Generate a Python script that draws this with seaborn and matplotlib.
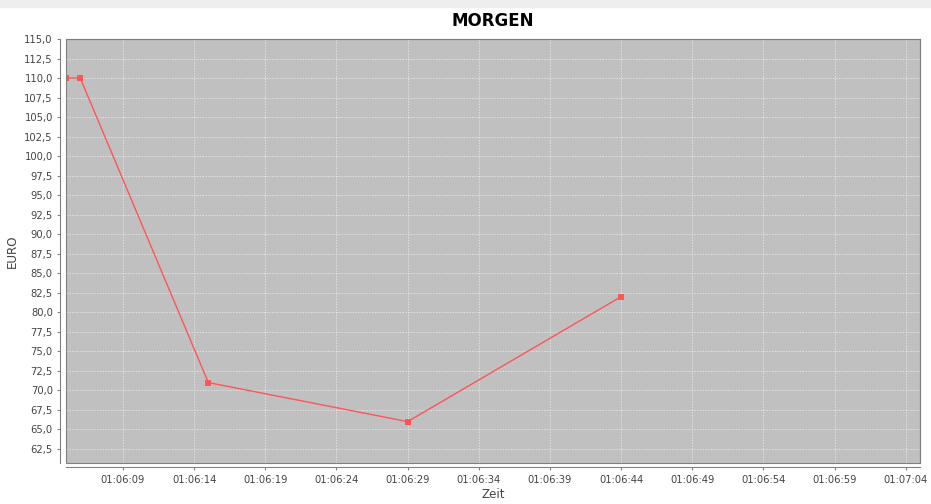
import datetime as dt
import matplotlib
matplotlib.use("Agg")
import matplotlib.pyplot as plt
import matplotlib.dates as mdates
from matplotlib.ticker import FuncFormatter, MultipleLocator
from matplotlib.patches import Rectangle
import pandas as pd
import seaborn as sns

# Data
zeit = ["01:06:05", "01:06:06", "01:06:15", "01:06:29", "01:06:44"]
euro = [110.0, 110.0, 71.0, 66.0, 82.0]

day = "2020-01-01 "
df = pd.DataFrame({"Zeit": pd.to_datetime([day + t for t in zeit]), "EURO": euro})

sns.set_style("white")
plt.rcParams["font.family"] = ["DejaVu Sans"]

fig = plt.figure(figsize=(9.31, 5.04), dpi=100)
fig.patches.append(Rectangle((0, 497 / 504), 1, 7 / 504, transform=fig.transFigure,
                             color="#eeeeee", zorder=0))
ax = fig.add_axes([66 / 931, 1 - 463 / 504, (920 - 66) / 931, (463 - 39) / 504])
ax.set_facecolor("#c0c0c0")

sns.lineplot(data=df, x="Zeit", y="EURO", ax=ax, color="#ff5555", linewidth=1.0,
             marker="s", markersize=5, markeredgewidth=0, markerfacecolor="#ff5555",
             zorder=3)

ax.set_xlim(pd.Timestamp(day + "01:06:05"), pd.Timestamp(day + "01:07:05"))
ax.set_ylim(60.7, 115.0)

ax.xaxis.set_major_locator(mdates.SecondLocator(bysecond=range(4, 60, 5)))
ax.xaxis.set_major_formatter(mdates.DateFormatter("%H:%M:%S"))
ax.yaxis.set_major_locator(MultipleLocator(2.5))
ax.yaxis.set_major_formatter(FuncFormatter(lambda v, p: f"{v:.1f}".replace(".", ",")))

ax.grid(True, color="#f0f0f0", linestyle=(0, (2, 2)), linewidth=0.5)
ax.tick_params(axis="both", labelsize=7.2, labelcolor="#444444", color="#808080",
               length=2.5, width=0.8, direction="out", left=True, bottom=True, pad=3)

for side in ["top", "right", "left", "bottom"]:
    ax.spines[side].set_color("#808080")
    ax.spines[side].set_linewidth(0.8)
ax.spines["left"].set_position(("outward", 4))
ax.spines["bottom"].set_position(("outward", 3))
ax.add_patch(Rectangle((0, 0), 1, 1, transform=ax.transAxes, fill=False,
                       edgecolor="#808080", linewidth=0.8, clip_on=False, zorder=4))

ax.set_xlabel("Zeit", fontsize=8.6, color="#444444", labelpad=2)
ax.set_ylabel("EURO", fontsize=8.6, color="#444444", labelpad=4)
ax.set_title("MORGEN", fontsize=12, fontweight="bold", color="black", pad=9)

fig.savefig("out.png", dpi=100)
